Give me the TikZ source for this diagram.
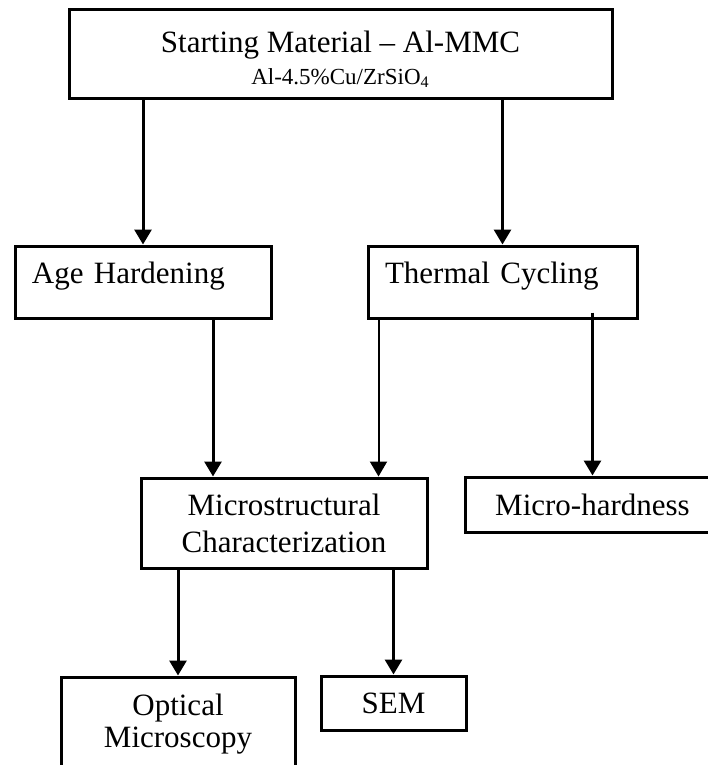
\documentclass[tikz,border=0pt]{standalone}
\usepackage{fontspec}
\setmainfont{Liberation Serif}
\usetikzlibrary{arrows.meta}
\usetikzlibrary{positioning}
\tikzset{>={Triangle[width=8.5pt,length=7.5pt]}, font=\fontsize{15.5}{18.5}\selectfont}
\tikzstyle{block} = [draw, rectangle, line width=1.5pt, inner sep=0pt, text centered, align=center]
\tikzstyle{leftblock} = [block, align=left, inner xsep=8.5pt, text height=18.5pt, text depth=17.5pt]
\tikzstyle{flow} = [line width=1.5pt, ->]
\tikzstyle{thinflow} = [line width=1pt, ->]

\begin{document}
\begin{tikzpicture}[x=0.5pt, y=-0.5pt]
    \useasboundingbox (0,0) rectangle (707,765);
    \node [block, minimum width=271.5pt, minimum height=44.5pt, text height=37pt, text depth=7.5pt] (start) at (340.5,54.5)
        {Starting Material -- Al-MMC\\[-2.5pt]{\fontsize{11.5}{13}\selectfont Al-4.5\%Cu/ZrSiO\textsubscript{4}}};
    \node [leftblock, text width=111pt] (age) at (143,282) {Age Hardening};
    \node [leftblock, text width=117.5pt] (thermal) at (502.5,282) {Thermal Cycling};
    \node [block, minimum width=143pt, minimum height=45pt] (micro) at (284,523) {Microstructural\\Characterization};
    \node [block, minimum width=127.5pt, minimum height=27.5pt] (hard) at (592.5,504.5) {Micro-hardness};
    \node [block, minimum width=117pt, minimum height=47.5pt, font=\fontsize{15.5}{16}\selectfont] (optical) at (178,724.5) {Optical\\Microscopy};
    \node [block, minimum width=72.5pt, minimum height=27pt] (sem) at (393.5,703) {SEM};

    \draw [flow] (start.south -| age.north) -- (age.north);
    \draw [flow] (start.south -| thermal.north) -- (thermal.north);
    \draw [flow] ([xshift=35pt]age.south) -- ([xshift=35pt]age.south |- micro.north);
    \draw [thinflow] ([xshift=-62pt]thermal.south) -- ([xshift=-62pt]thermal.south |- micro.north);
    \draw [flow] ([yshift=3.5pt]thermal.south -| hard.north) -- (hard.north);
    \draw [flow] (micro.south -| optical.north) -- (optical.north);
    \draw [flow] (micro.south -| sem.north) -- (sem.north);
\end{tikzpicture}
\end{document}
